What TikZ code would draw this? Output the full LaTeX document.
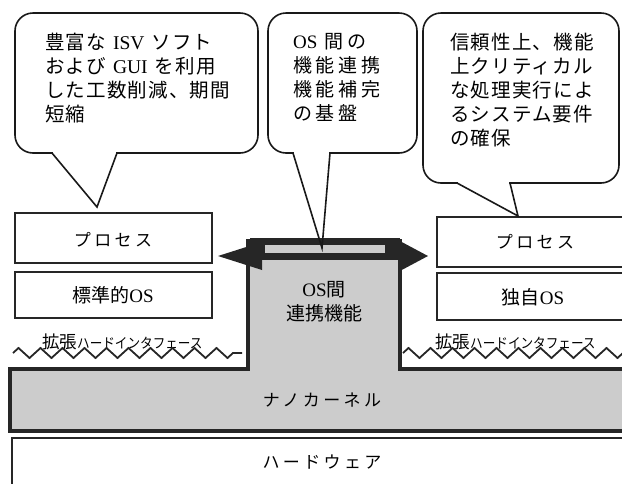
\documentclass[tikz,border=0pt]{standalone}
\usepackage{graphicx}
\usepackage{fontspec}
\setmainfont{Liberation Serif}
\newfontfamily\jp{Noto Sans CJK JP}
\newfontfamily\jpA{Noto Sans CJK JP}[LetterSpace=6]
\newfontfamily\jpB{Noto Sans CJK JP}[LetterSpace=20]
\newcommand\lat[1]{{\rmfamily #1}}
\newcommand\gap{\hspace{7pt}}
\usetikzlibrary{decorations.pathmorphing}
\begin{document}
\begin{tikzpicture}[x=1pt,y=-1pt,
  bubble/.style={draw=black!90, line width=1.6pt, rounded corners=18pt},
  tail/.style={draw=black!90, line width=1.6pt, line join=miter},
  layerbox/.style={draw=black!85, line width=1.4pt},
  btext/.style={font=\jpA\fontsize{19.5}{24}\selectfont, align=left, inner sep=0pt, anchor=north west},
  mtext/.style={font=\jpB\fontsize{19}{24}\selectfont, align=left, inner sep=0pt, anchor=north west},
  lbl/.style={font=\jp\fontsize{19}{24}\selectfont, inner sep=0pt, align=center},
  kata/.style={font=\jpB\fontsize{17}{20}\selectfont, inner sep=0pt},
  zig/.style={draw=black!85, line width=1.8pt, decorate, decoration={zigzag, segment length=22pt, amplitude=5pt}},
  ifl/.style={font=\jp\fontsize{17.5}{20}\selectfont, inner sep=0pt, anchor=west},
  dark/.style={fill=black!85},
  stip/.style={fill=black!20}
]
\useasboundingbox (0,0) rectangle (622,483);
\clip (0,0) rectangle (622,483);

% hardware
\draw[layerbox] (12,438) rectangle (660,520);
\node[kata] (hw) at (322,462) {ハードウェア};

% nanokernel + centre box
\draw[draw=black!85, line width=4.5pt, stip, line join=miter] (10,369) -- (248,369) -- (248,241) -- (400,241) -- (400,369) -- (660,369) -- (660,431) -- (10,431) -- cycle;
\node[kata] (nk) at (322,400) {ナノカーネル};

% double arrow
\fill[dark] (250,238) rectangle (400,260);
\fill[dark] (218,256) -- (262,242) -- (262,270) -- cycle;
\fill[dark] (428,256) -- (398,240) -- (398,272) -- cycle;
\fill[stip] (265,245) rectangle (385,253);
\node[lbl] (cf) at (324,302) {\lat{OS}間\\連携機能};

% left stack
\draw[layerbox] (15,213) rectangle (212,263);
\node[kata] (lp) at (113,240) {プロセス};
\draw[layerbox] (15,272) rectangle (212,318);
\node[lbl] (los) at (113,295) {標準的\lat{OS}};
\node[ifl] (lif) at (42,342) {拡張\scalebox{0.9}[1]{\fontsize{14}{14}\selectfont ハードインタフェース}};
\draw[zig] (13,353) -- (242,353);

% right stack
\draw[layerbox] (437,217) rectangle (660,267);
\node[kata] (rp) at (535,242) {プロセス};
\draw[layerbox] (437,273) rectangle (660,320);
\node[lbl] (ros) at (533,297) {独自\lat{OS}};
\node[ifl] (rif) at (435,342) {拡張\scalebox{0.9}[1]{\fontsize{14}{14}\selectfont ハードインタフェース}};
\draw[zig] (403,353) -- (640,353);

% left bubble
\draw[bubble] (15,13) rectangle (258,153);
\fill[white] (53,149) rectangle (116,157);
\draw[tail] (52,153) -- (97,207) -- (117,153);
\node[btext] (lb) at (45,33) {豊富な\gap\lat{ISV}\gap ソフト\\および\gap\lat{GUI}\gap を利用\\した工数削減、期間\\短縮};

% middle bubble
\draw[bubble] (268,13) rectangle (417,153);
\fill[white] (294,149) rectangle (329,157);
\draw[tail] (293,153) -- (322,248) -- (330,153);
\node[mtext] (mb) at (293,33) {\lat{OS}\gap 間の\\機能連携\\機能補完\\の基盤};

% right bubble
\draw[bubble] (423,13) rectangle (619,183);
\fill[white] (458,179) rectangle (509,187);
\draw[tail] (457,183) -- (518,216) -- (510,183);
\node[btext] (rb) at (450,33) {信頼性上、機能\\上クリティカル\\な処理実行によ\\るシステム要件\\の確保};
\end{tikzpicture}
\end{document}
